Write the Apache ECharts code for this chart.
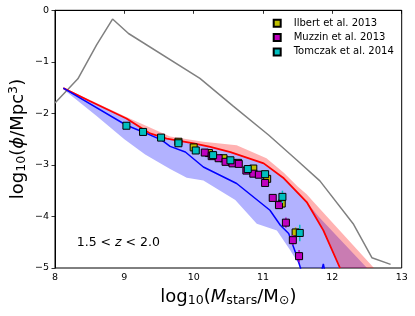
<!DOCTYPE html>
<html><head><meta charset="utf-8">
<script src="https://cdn.jsdelivr.net/npm/echarts@6/dist/echarts.min.js"></script>
<style>html,body{margin:0;padding:0;background:#fff}#c{width:415px;height:316px}</style>
</head><body><div id="c"></div>
<script>
// axis ticks
const xTicks = [8, 9, 10, 11, 12, 13];
const yTicks = [-5, -4, -3, -2, -1, 0];

// gray model curve
const grayX = [8.0, 8.33, 8.6, 8.83, 9.06, 10.09, 10.57, 11.08, 11.49, 11.82, 12.30, 12.57, 12.84];
const grayY = [-1.80, -1.33, -0.67, -0.17, -0.45, -1.32, -1.86, -2.42, -2.91, -3.31, -4.14, -4.80, -4.93];

// red model curve
const redX = [8.12, 8.5, 9.03, 9.37, 9.61, 10.0, 10.24, 10.53, 11.01, 11.30, 11.63, 11.87, 12.11];
const redY = [-1.51, -1.76, -2.10, -2.39, -2.49, -2.58, -2.65, -2.75, -2.97, -3.26, -3.72, -4.27, -5.0];

// red band upper edge (lower edge = red curve)
const redUpX = [8.12, 9.03, 9.66, 10.14, 10.62, 11.05, 11.30, 11.50, 11.63, 11.73, 12.60];
const redUpY = [-1.50, -2.07, -2.45, -2.55, -2.62, -2.87, -3.15, -3.42, -3.57, -3.72, -5.0];

// blue model curve
const blueX = [8.12, 9.03, 9.27, 9.54, 9.66, 9.88, 10.14, 10.62, 11.10, 11.25, 11.37, 11.49, 11.54, 11.60, 11.80, 11.87, 11.94];
const blueY = [-1.51, -2.23, -2.36, -2.52, -2.64, -2.75, -3.04, -3.36, -3.88, -4.17, -4.33, -4.78, -5.0, -5.4, -5.3, -4.92, -5.4];

// blue band edges
const blueLoX = [8.12, 8.6, 9.0, 9.3, 9.66, 9.9, 10.14, 10.6, 10.91, 11.2, 11.39, 11.55];
const blueLoY = [-1.53, -2.05, -2.50, -2.80, -3.08, -3.25, -3.30, -3.68, -4.14, -4.27, -4.65, -5.0];
const blueUpX = [8.12, 8.5, 9.03, 9.37, 9.61, 10.0, 10.24, 10.53, 11.01, 11.30, 11.63, 11.80, 12.50];
const blueUpY = [-1.51, -1.76, -2.10, -2.39, -2.49, -2.58, -2.65, -2.75, -2.97, -3.26, -3.72, -4.00, -5.0];

// observations
const ilbertX = [9.78, 10.0, 10.22, 10.43, 10.64, 10.86, 11.06, 11.27, 11.47];
const ilbertY = [-2.55, -2.66, -2.77, -2.87, -2.96, -3.07, -3.27, -3.75, -4.31];
const ilbertE = [0.03, 0.03, 0.03, 0.03, 0.04, 0.04, 0.05, 0.07, 0.10];

const muzzinX = [10.16, 10.26, 10.36, 10.46, 10.56, 10.65, 10.76, 10.86, 10.94, 11.03, 11.14, 11.23, 11.33, 11.43, 11.52];
const muzzinY = [-2.76, -2.83, -2.87, -2.94, -2.97, -2.98, -3.11, -3.17, -3.19, -3.35, -3.64, -3.78, -4.12, -4.46, -4.77];
const muzzinE = [0.03, 0.03, 0.03, 0.03, 0.03, 0.03, 0.04, 0.04, 0.04, 0.05, 0.06, 0.07, 0.10, 0.10, 0.12];

const tomczakX = [9.03, 9.27, 9.53, 9.78, 10.03, 10.28, 10.53, 10.78, 11.03, 11.28, 11.53];
const tomczakY = [-2.24, -2.36, -2.47, -2.58, -2.72, -2.81, -2.91, -3.08, -3.18, -3.62, -4.32];
const tomczakE = [0.05, 0.05, 0.05, 0.05, 0.05, 0.04, 0.04, 0.04, 0.06, 0.12, 0.16];

const names = ['Ilbert et al. 2013', 'Muzzin et al. 2013', 'Tomczak et al. 2014'];

const zip = (a, b) => a.map((v, i) => [v, b[i]]);
const FONT = 'DejaVu Sans';

function bandSeries(upX, upY, loX, loY, fill, z) {
  const up = zip(upX, upY), lo = zip(loX, loY);
  return {
    type: 'custom', silent: true, clip: true, z: z,
    data: up,
    renderItem: function (params, api) {
      if (params.dataIndex !== 0) return null;
      const pts = up.map(p => api.coord(p)).concat(lo.slice().reverse().map(p => api.coord(p)));
      return { type: 'polygon', shape: { points: pts }, style: { fill: fill, stroke: null } };
    }
  };
}

function errSeries(xs, ys, es, color, z) {
  return {
    type: 'custom', silent: true, z: z,
    data: xs.map((x, i) => [x, ys[i], es[i]]),
    renderItem: function (params, api) {
      const x = api.value(0), y = api.value(1), e = api.value(2);
      const a = api.coord([x, y - e]), b = api.coord([x, y + e]);
      return { type: 'line', shape: { x1: a[0], y1: a[1], x2: b[0], y2: b[1] }, style: { stroke: color, lineWidth: 1.5 } };
    }
  };
}

function markSeries(name, xs, ys, color, z) {
  return {
    name: name, type: 'scatter', z: z,
    symbol: 'rect', symbolSize: 7,
    itemStyle: { color: color, borderColor: '#000', borderWidth: 1, opacity: 1 },
    data: zip(xs, ys)
  };
}

const chart = echarts.init(document.getElementById('c'), null, { renderer: 'canvas' });
chart.setOption({
  animation: false,
  backgroundColor: '#fff',
  grid: { left: 55, right: 13.3, top: 10.3, bottom: 48, show: true, borderColor: '#000', borderWidth: 1, backgroundColor: 'transparent' },
  xAxis: {
    type: 'value', min: xTicks[0], max: xTicks[xTicks.length - 1], interval: 1,
    splitLine: { show: false },
    axisLine: { show: true, lineStyle: { color: '#000', width: 1 } },
    axisTick: { show: true, length: 3.5, lineStyle: { color: '#000', width: 0.8 } },
    axisLabel: { color: '#000', fontSize: 9.5, fontFamily: FONT, margin: 5 }
  },
  yAxis: {
    type: 'value', min: yTicks[0], max: yTicks[yTicks.length - 1], interval: 1,
    splitLine: { show: false },
    axisLine: { show: true, onZero: false, lineStyle: { color: '#000', width: 1 } },
    axisTick: { show: true, length: 3.5, lineStyle: { color: '#000', width: 0.8 } },
    axisLabel: { color: '#000', fontSize: 9.5, fontFamily: FONT, margin: 6,
      formatter: v => String(v).replace('-', '\u2212') }
  },
  legend: {
    data: names.map(n => ({ name: n, icon: 'rect' })),
    orient: 'vertical', left: 272.7, top: 17.3, padding: 0,
    itemWidth: 7, itemHeight: 7, itemGap: 2.3,
    textStyle: { fontSize: 10, fontFamily: FONT, color: '#000', lineHeight: 12, padding: [0, 0, 0, 8] },
    selectedMode: false
  },
  graphic: [
    {
      type: 'text', x: 228.4, y: 297,
      style: {
        text: '{n|log}{s|10}{n|(}{i|M}{s|stars}{n|/M}{s|\u2299}{n|)}',
        align: 'center', verticalAlign: 'middle', fill: '#000',
        rich: {
          n: { fontSize: 18, fontFamily: FONT, fill: '#000' },
          i: { fontSize: 18, fontFamily: FONT, fontStyle: 'italic', fill: '#000' },
          s: { fontSize: 12.6, fontFamily: FONT, padding: [8, 0, 0, 0], fill: '#000' }
        }
      }
    },
    {
      type: 'text', x: 18, y: 139, rotation: Math.PI / 2,
      style: {
        text: '{n|log}{s|10}{n|(}{i|\u03d5}{n|/Mpc}{u|3}{n|)}',
        align: 'center', verticalAlign: 'middle', fill: '#000',
        rich: {
          n: { fontSize: 18, fontFamily: FONT, fill: '#000' },
          i: { fontSize: 18, fontFamily: FONT, fontStyle: 'italic', fill: '#000' },
          s: { fontSize: 12.6, fontFamily: FONT, padding: [8, 0, 0, 0], fill: '#000' },
          u: { fontSize: 12.6, fontFamily: FONT, padding: [0, 0, 8, 0], fill: '#000' }
        }
      }
    },
    {
      type: 'text', x: 76.7, y: 242.7,
      style: {
        text: '{n|1.5 < }{i|z}{n| < 2.0}',
        align: 'left', verticalAlign: 'middle', fill: '#000',
        rich: {
          n: { fontSize: 12.5, fontFamily: FONT, fill: '#000' },
          i: { fontSize: 12.5, fontFamily: FONT, fontStyle: 'italic', fill: '#000' }
        }
      }
    }
  ],
  series: [
    bandSeries(blueUpX, blueUpY, blueLoX, blueLoY, 'rgba(0,0,255,0.3)', 1),
    bandSeries(redUpX, redUpY, redX, redY, 'rgba(255,0,0,0.3)', 2),
    { type: 'line', data: zip(grayX, grayY), symbol: 'none', z: 3, silent: true,
      lineStyle: { color: '#808080', width: 1.5 } },
    { type: 'line', data: zip(redX, redY), symbol: 'none', z: 3, silent: true,
      lineStyle: { color: '#ff0000', width: 1.8 } },
    { type: 'line', data: zip(blueX, blueY), symbol: 'none', z: 3, silent: true,
      lineStyle: { color: '#0000ff', width: 1.5 } },
    errSeries(ilbertX, ilbertY, ilbertE, '#bfbf00', 4),
    markSeries(names[0], ilbertX, ilbertY, '#bfbf00', 5),
    errSeries(muzzinX, muzzinY, muzzinE, '#bf00bf', 6),
    markSeries(names[1], muzzinX, muzzinY, '#bf00bf', 7),
    errSeries(tomczakX, tomczakY, tomczakE, '#00bfbf', 8),
    markSeries(names[2], tomczakX, tomczakY, '#00bfbf', 9)
  ]
});
</script>
</body></html>
